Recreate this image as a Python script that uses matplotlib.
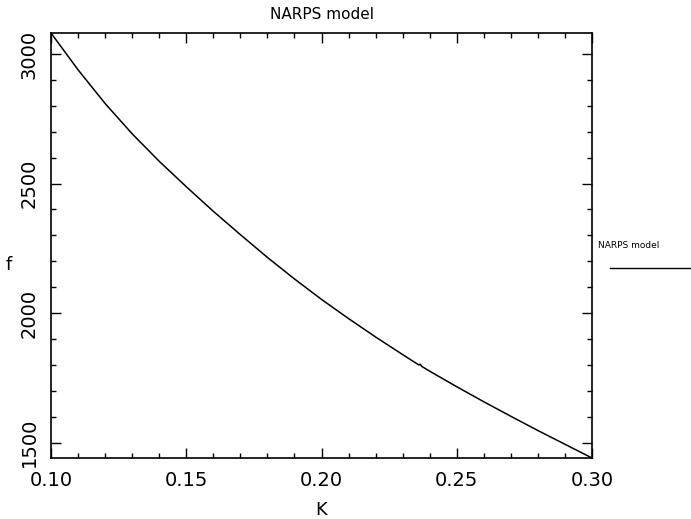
import matplotlib
matplotlib.use("Agg")
import matplotlib.pyplot as plt
from matplotlib.ticker import MultipleLocator, FormatStrFormatter
from matplotlib.lines import Line2D

# Data
K = [0.10, 0.11, 0.12, 0.13, 0.14, 0.15, 0.16, 0.17, 0.18, 0.19, 0.20,
     0.21, 0.22, 0.23, 0.236, 0.2365, 0.237, 0.24, 0.25, 0.26, 0.27,
     0.28, 0.29, 0.30]
f = [3081, 2939, 2809, 2692, 2586, 2488, 2393, 2303, 2215, 2132, 2053,
     1979, 1908, 1840, 1800, 1803, 1795, 1776, 1716, 1658, 1602,
     1547, 1494, 1441]

title = "NARPS model"
series_label = "NARPS model"
xlabel = "K"
ylabel = "f"

fig = plt.figure(figsize=(6.91, 5.19), dpi=100)
ax = fig.add_axes([51/691, 1 - 458/519, (592-51)/691, (458-33)/519])

ax.plot(K, f, color="black", lw=1.1)
ax.set_xlim(min(K), max(K))
ax.set_ylim(min(f), max(f))

ax.xaxis.set_major_locator(MultipleLocator(0.05))
ax.xaxis.set_minor_locator(MultipleLocator(0.01))
ax.yaxis.set_major_locator(MultipleLocator(500))
ax.yaxis.set_minor_locator(MultipleLocator(100))
ax.xaxis.set_major_formatter(FormatStrFormatter("%.2f"))
ax.yaxis.set_major_formatter(FormatStrFormatter("%d"))

ax.tick_params(which="both", direction="in", top=True, right=True, width=1.0)
ax.tick_params(which="major", length=7)
ax.tick_params(which="minor", length=3.5)
ax.tick_params(axis="x", which="major", labelsize=14, pad=9)
ax.tick_params(axis="y", which="major", labelsize=14, pad=9)
for lab in ax.get_yticklabels():
    lab.set_rotation(90)
    lab.set_va("center")
for s in ax.spines.values():
    s.set_linewidth(1.2)

ax.set_title(title, fontsize=11, pad=10)
ax.set_xlabel(xlabel, fontsize=13, labelpad=8)
ax.set_ylabel(ylabel, fontsize=13, rotation=0, ha="center", va="center")
ax.yaxis.set_label_coords((9 - 51) / 541, 1 - (265 - 33) / 425)

# legend (label above line, right of the axes)
fig.text(598/691, 1 - 245/519, series_label, fontsize=6.5, va="center", ha="left")
fig.add_artist(Line2D([610/691, 1.0], [1 - 267.5/519, 1 - 267.5/519],
                      transform=fig.transFigure, color="black", lw=1.0))

fig.savefig("out.png", dpi=100)
